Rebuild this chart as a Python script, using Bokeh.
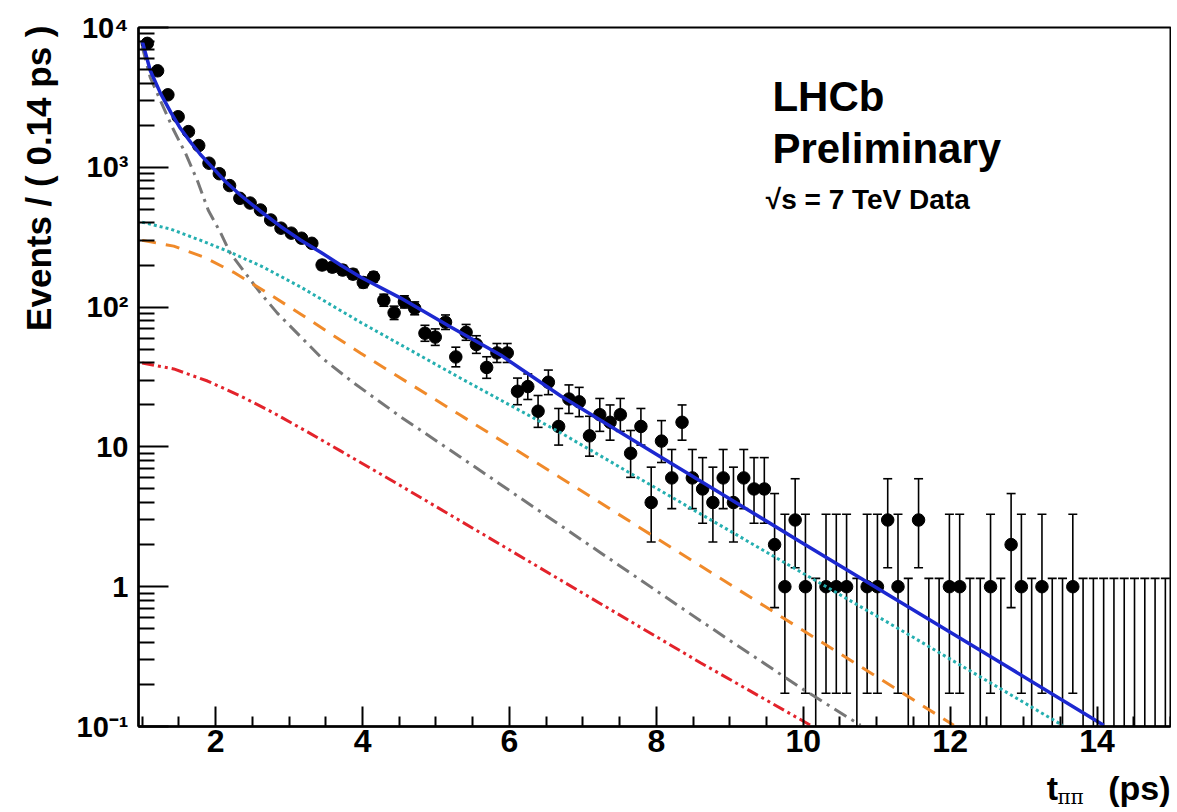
import math
from bokeh.plotting import figure
from bokeh.layouts import row, column
from bokeh.models import FixedTicker, CustomJSTickFormatter, Label, ColumnDataSource, Range1d
from bokeh.embed import file_html
from bokeh.resources import INLINE

# ---------------- data ----------------
BIN_LO = 1.0
BIN_W = 0.14
counts = [7700, 4900, 3300, 2300, 1800, 1430, 1070, 900, 740, 600,
          555, 495, 420, 367, 338, 311, 286, 200, 193, 184,
          172, 150, 164, 112, 91, 109, 98, 65, 61, 78,
          44, 66, 54, 37, 47, 47, 25, 27, 18, 29,
          14, 22, 21, 12, 17, 15, 17, 9, 14, 4,
          11, 6, 15, 6, 5, 4, 6, 4, 6, 5,
          5, 2, 1, 3, 1, 0, 1, 1, 1, 0,
          1, 1, 3, 1, 0, 3, 0, 0, 1, 1,
          0, 0, 1, 0, 2, 1, 0, 1, 0, 0,
          1, 0, 0, 0, 0, 0, 0, 0, 0, 0]

total_x = [1.0, 1.11, 1.25, 1.39, 1.52, 1.66, 1.79, 1.93, 2.13, 2.34, 2.61, 2.88,
           3.16, 3.43, 3.70, 3.97, 4.52, 5.20, 5.88, 6.70, 8.06, 9.96, 12.69, 14.09]
total_y = [8000, 4930, 3380, 2470, 1900, 1510, 1240, 1033, 794, 631, 485, 379,
           301, 247, 200, 164, 116, 72, 45.4, 23.1, 8.48, 2.1, 0.286, 0.102]

teal_x = [1.0, 1.39, 1.79, 2.20, 2.65, 3.16, 3.97, 5.33, 6.70, 8.60, 9.96, 11.32, 13.53]
teal_y = [405, 361, 301, 247, 193, 139, 78, 31.1, 12.6, 3.32, 1.28, 0.493, 0.102]

orange_x = [1.0, 1.43, 1.84, 2.24, 2.75, 3.16, 3.97, 5.33, 6.70, 8.60, 9.96, 12.05]
orange_y = [300, 273, 228, 178, 122, 89, 46.9, 16.9, 6.0, 1.41, 0.501, 0.102]

gray_x = [1.0, 1.11, 1.29, 1.43, 1.59, 1.75, 1.90, 2.07, 2.20, 2.61, 2.84, 3.43,
          3.88, 4.52, 5.33, 7.24, 8.60, 9.96, 10.78]
gray_y = [7300, 4390, 2680, 1840, 1259, 807, 493, 338, 243, 126, 90.6, 44,
          28.7, 16.4, 8.48, 1.75, 0.571, 0.19, 0.102]

red_x = [1.0, 1.43, 1.89, 2.34, 2.79, 3.25, 3.70, 4.52, 5.88, 7.24, 8.60, 10.10]
red_y = [39.8, 36.1, 29.6, 23.1, 17.5, 12.8, 9.36, 5.27, 2.0, 0.756, 0.286, 0.102]

x_major = [2, 4, 6, 8, 10, 12, 14]
y_major = [0.1, 1, 10, 100, 1000, 10000]

# ---------------- Poisson (RooFit-style) intervals ----------------
def pois_cdf(n, mu):
    if mu <= 0:
        return 1.0
    s = 0.0
    for k in range(n + 1):
        s += math.exp(-mu + k * math.log(mu) - math.lgamma(k + 1))
    return s

ALPHA = 0.158655

def interval(n):
    if n == 0:
        return 1e-4, -math.log(1 - 0.682689)
    if n > 200:
        s = math.sqrt(n)
        return n - s, n + s
    lo, hi = float(n), n + 10 * math.sqrt(n + 1) + 10
    for _ in range(70):
        mid = 0.5 * (lo + hi)
        if pois_cdf(n, mid) > ALPHA:
            lo = mid
        else:
            hi = mid
    up = 0.5 * (lo + hi)
    lo, hi = 0.0, float(n)
    for _ in range(70):
        mid = 0.5 * (lo + hi)
        if 1 - pois_cdf(n - 1, mid) < ALPHA:
            lo = mid
        else:
            hi = mid
    return 0.5 * (lo + hi), up

centers = [BIN_LO + BIN_W * (i + 0.5) for i in range(len(counts))]
lows, ups = [], []
for n in counts:
    a, b = interval(n)
    lows.append(a)
    ups.append(b)

pts = ColumnDataSource(dict(x=[c for c, n in zip(centers, counts) if n > 0],
                            y=[n for n in counts if n > 0]))
bars = ColumnDataSource(dict(x=centers, lo=lows, up=ups))
lowcaps = ColumnDataSource(dict(x=[c for c, n in zip(centers, counts) if n > 0],
                                y=[l for l, n in zip(lows, counts) if n > 0]))

# ---------------- main figure ----------------
FONT = "Liberation Sans"
STRIP_W = 70
MAIN_H = 766
STRIP_H = 44
p = figure(width=1171 - STRIP_W, height=MAIN_H, x_range=Range1d(0.95, 15.0), y_range=Range1d(0.1, 1e4),
           y_axis_type="log", output_backend="svg", toolbar_location=None,
           min_border_left=138 - STRIP_W, min_border_right=1, min_border_top=27, min_border_bottom=40)
p.grid.visible = False
p.outline_line_color = "black"
p.outline_line_width = 2
p.background_fill_color = "white"
p.border_fill_color = "white"

xa = p.xaxis[0]
xa.ticker = FixedTicker(ticks=x_major,
                        minor_ticks=[1.0 + 0.5 * k for k in range(29) if (1.0 + 0.5 * k) not in x_major])
xa.major_tick_in = 20
xa.major_tick_out = 0
xa.minor_tick_in = 10
xa.minor_tick_out = 0
xa.major_tick_line_width = 2
xa.minor_tick_line_width = 2
xa.axis_line_width = 2.5
xa.major_label_text_font = FONT
xa.major_label_text_font_style = "bold"
xa.major_label_text_font_size = "32px"
xa.major_label_text_color = "black"
xa.major_label_standoff = 3

ya = p.yaxis[0]
ya.ticker = FixedTicker(ticks=y_major,
                        minor_ticks=[k * 10.0 ** d for d in range(-1, 4) for k in range(2, 10)])
ya.formatter = CustomJSTickFormatter(code="""
const e = Math.round(Math.log10(tick));
const sup = {"-1": "\u207b\u00b9", "2": "\u00b2", "3": "\u00b3", "4": "\u2074"};
if (e == 0) return "1";
if (e == 1) return "10";
return "10" + sup[String(e)];
""")
ya.major_tick_in = 30
ya.major_tick_out = 0
ya.minor_tick_in = 16
ya.minor_tick_out = 0
ya.major_tick_line_width = 2
ya.minor_tick_line_width = 2
ya.axis_line_width = 2.5
ya.major_label_text_font = FONT
ya.major_label_text_font_style = "bold"
ya.major_label_text_font_size = "29px"
ya.major_label_text_color = "black"
ya.major_label_standoff = 10

# data with error bars
p.segment(x0="x", y0="lo", x1="x", y1="up", source=bars, line_color="black", line_width=1.6)
p.scatter(x="x", y="up", source=bars, marker="dash", size=9, line_color="black", line_width=1.6)
p.scatter(x="x", y="y", source=lowcaps, marker="dash", size=9, line_color="black", line_width=1.6)
p.scatter(x="x", y="y", source=pts, marker="circle", size=12.5, fill_color="black", line_color="black")

# model components
p.line(red_x, red_y, line_color="#e3232b", line_width=3, line_dash="12 4 3 4 3 4")
p.line(gray_x, gray_y, line_color="#777777", line_width=3, line_dash="14 6 3 6")
p.line(orange_x, orange_y, line_color="#f08a2a", line_width=3, line_dash="14 10")
p.line(teal_x, teal_y, line_color="#25afb0", line_width=3, line_dash="3 3")
p.line(total_x, total_y, line_color="#1c28d0", line_width=3.5)

def lab(fig, x, y, t, size, font=FONT, style="bold", align="left", angle=0.0, baseline="alphabetic"):
    fig.add_layout(Label(x=x, y=y, text=t, text_font=font, text_font_style=style,
                         text_font_size=size, text_color="black", text_align=align,
                         text_baseline=baseline, angle=angle))

lab(p, 9.58, 3214, "LHCb", "42px")
lab(p, 9.58, 1367, "Preliminary", "42px")
lab(p, 9.49, 590, "\u221as = 7 TeV Data", "28px")

# ---------------- strip below: x-axis title t_{pi pi} (ps) ----------------
p2 = figure(width=1171 - STRIP_W, height=STRIP_H, x_range=p.x_range, y_range=Range1d(0, STRIP_H),
            output_backend="svg", toolbar_location=None, x_axis_location=None, y_axis_location=None,
            min_border_left=138 - STRIP_W, min_border_right=1, min_border_top=0, min_border_bottom=0)
p2.grid.visible = False
p2.outline_line_color = None
lab(p2, 15.0, 22.5, "(ps)", "34px", align="right")
lab(p2, 13.47, 22.5, "t", "34px", align="right")
lab(p2, 13.46, 13.5, "\u03c0\u03c0", "20px", font="DejaVu Serif", style="normal")

# ---------------- strip left: y-axis title ----------------
TOTAL_H = MAIN_H + STRIP_H
pL = figure(width=STRIP_W, height=TOTAL_H, x_range=Range1d(0, STRIP_W), y_range=Range1d(0, TOTAL_H),
            output_backend="svg", toolbar_location=None, x_axis_location=None, y_axis_location=None,
            min_border=0)
pL.grid.visible = False
pL.outline_line_color = None
lab(pL, 38, TOTAL_H - 25, "Events / ( 0.14 ps )", "35px", align="right", angle=math.pi / 2)

layout = row(pL, column(p, p2, spacing=0), spacing=0)
open("out.html", "w").write(file_html(layout, INLINE))
